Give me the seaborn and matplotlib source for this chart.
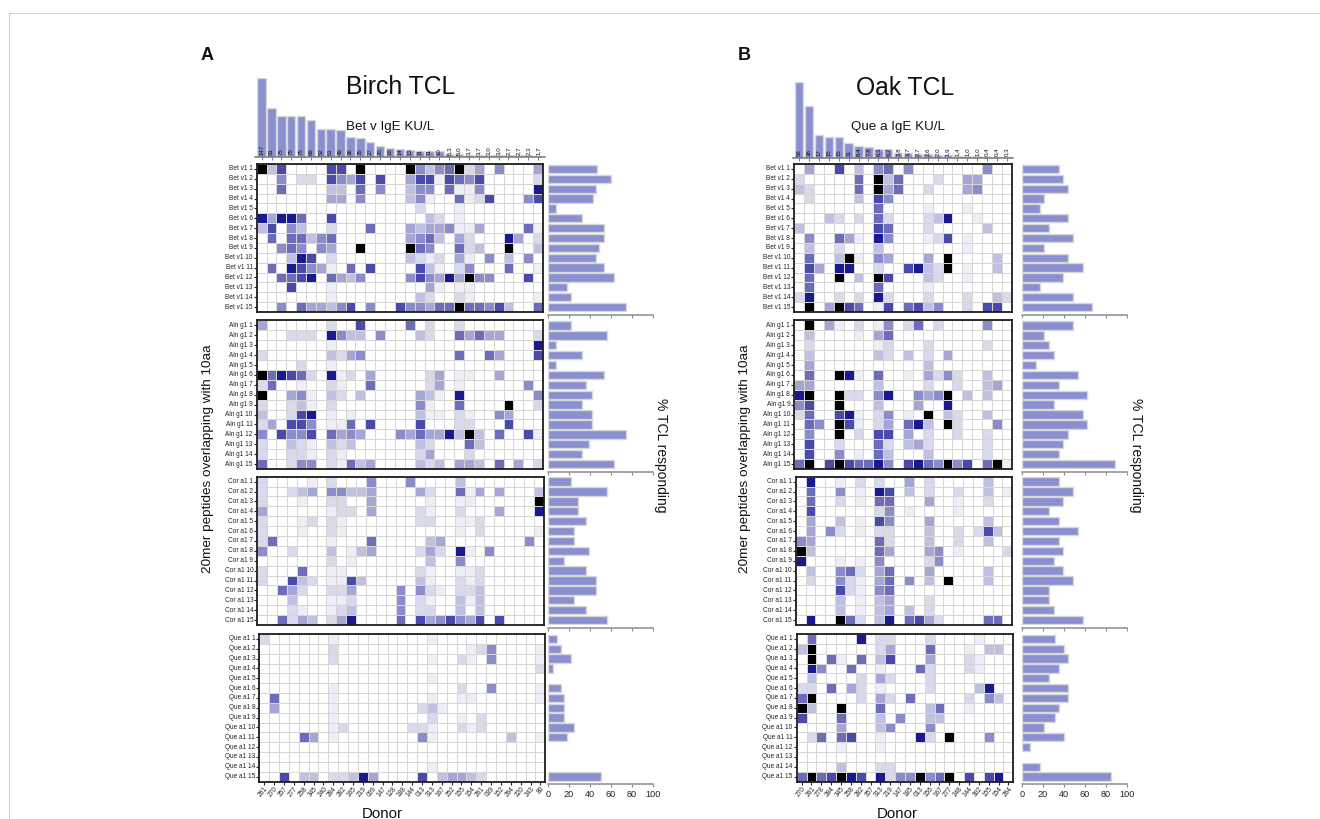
import numpy as np
import pandas as pd
import seaborn as sns
import matplotlib
matplotlib.use("Agg")
import matplotlib.pyplot as plt
from matplotlib.colors import ListedColormap
from matplotlib.lines import Line2D

W, H = 1320, 819

# response level per cell, 0 (white) to 9 (black), only non-zero cells listed by donor index
birch_bet = [
    {0:9,1:3,2:7,7:7,8:7,10:9,15:9,16:5,17:3,18:5,19:6,20:9,21:2,22:4,24:5,28:4},
    {2:5,4:2,5:2,7:7,8:5,9:4,10:7,12:7,15:4,16:7,17:7,18:1,19:7,20:6,21:5,22:7,28:2},
    {2:6,7:3,8:3,10:6,12:5,15:3,16:5,17:5,19:6,20:1,21:1,22:5,28:8},
    {7:4,8:4,10:5,15:3,16:5,17:1,20:6,21:1,22:2,23:7,27:5,28:7},
    {16:2,20:1},
    {0:8,1:4,2:8,3:8,4:6,7:7,17:3,18:2,20:1},
    {0:3,1:7,3:5,4:3,7:2,11:6,15:4,16:3,17:4,18:4,19:5,20:1,21:1,22:4,27:6,28:1},
    {1:6,3:6,4:6,5:3,6:5,7:6,15:4,16:5,17:6,18:3,20:4,21:2,25:8,26:4,28:2},
    {2:5,3:6,4:5,6:5,7:4,10:9,15:9,16:6,17:5,20:6,21:2,22:3,25:9,28:3},
    {3:3,4:8,5:7,7:2,15:3,16:2,17:1,18:2,20:4,21:1,23:5,25:3,27:5},
    {1:6,3:8,4:7,5:5,6:4,7:1,9:6,11:7,16:7,17:3,18:1,20:2,21:5,25:6,28:1},
    {2:6,3:6,4:7,5:8,7:6,8:4,9:3,10:5,15:5,16:7,17:5,18:4,19:8,20:4,21:9,22:5,23:5,27:7},
    {3:7,7:1,17:4,18:1,20:1,21:1},
    {7:1,16:3,17:2,20:2,21:1,28:1},
    {2:5,4:6,5:4,6:4,7:3,8:5,9:7,11:5,14:7,15:5,16:5,17:4,18:6,19:6,20:9,21:6,22:6,23:5,24:7,25:3,28:6},
]
birch_aln = [
    {0:4,7:2,10:7,15:6,17:2,20:2},
    {3:2,4:2,5:2,7:8,8:5,9:3,10:3,12:5,16:3,17:2,20:6,21:4,22:6,23:4,24:4,28:2},
    {7:1,28:8},
    {0:2,7:3,8:2,9:4,10:5,20:6,23:6,24:4,28:7},
    {4:2,7:1},
    {0:9,1:6,2:8,3:7,4:6,5:2,7:8,8:1,9:2,11:4,17:2,18:4,20:1,21:1,24:4},
    {0:2,1:6,4:1,7:2,8:1,11:6,17:2,18:4,20:1,27:5},
    {0:9,3:4,4:5,5:1,7:3,8:2,10:3,16:4,17:3,18:1,20:8,28:5},
    {0:2,3:2,4:3,5:1,7:2,16:5,17:1,20:6,25:9,28:2},
    {0:3,3:2,4:7,5:8,7:1,9:1,16:3,17:1,18:1,20:2,21:1,24:5,25:4},
    {0:2,1:4,3:7,4:7,5:5,7:1,8:1,9:6,11:7,16:7,20:2,21:2,25:7},
    {0:5,2:7,3:5,4:5,5:7,7:6,8:4,9:5,10:4,14:5,15:4,16:6,17:4,18:4,19:8,20:3,21:9,22:3,24:6,27:7,28:1},
    {0:2,3:3,4:2,5:1,7:3,8:2,9:3,16:3,17:2,21:6,22:3},
    {0:2,3:2,4:2,5:1,7:2,8:1,16:2,17:4,21:2},
    {0:6,3:2,4:5,5:5,7:2,8:1,9:6,10:3,11:4,16:3,17:2,18:3,20:4,21:4,22:3,24:6,26:4,28:2},
]
birch_cor = [
    {0:2,5:1,7:2,11:5,15:5,20:3},
    {0:2,3:2,4:3,5:4,7:5,8:5,9:3,10:3,11:4,16:4,17:2,20:6,21:1,22:4,24:4,28:3},
    {0:2,4:1,7:2,8:2,11:4,17:1,20:1,21:1,28:9},
    {0:4,7:1,8:2,9:2,11:4,16:2,17:1,20:2,24:4,28:8},
    {0:2,4:1,5:2,7:2,8:1,16:2,17:2,20:1,21:1,22:2},
    {0:2,4:1,7:2,8:1,20:1,22:2,28:1},
    {0:2,1:6,7:1,11:6,17:3,18:4,27:5},
    {0:5,3:2,7:3,9:1,10:3,11:4,16:2,17:4,18:2,20:8,21:1,23:5},
    {7:2,9:1,17:3,20:5},
    {0:2,4:6,7:1,8:1,16:2,17:1,20:1,21:1,22:2},
    {0:2,3:7,4:3,5:2,7:1,8:1,9:7,10:3,16:3,17:1,20:2,21:1,22:2},
    {2:6,3:4,4:2,7:2,8:2,9:4,14:5,16:5,17:2,18:1,20:2,21:2,22:3},
    {3:3,7:1,8:1,9:2,14:5,16:2,17:1,20:3,21:1,22:3},
    {3:2,4:1,7:1,8:2,9:3,14:5,16:2,17:2,20:3,22:3},
    {2:6,3:2,4:4,5:3,7:2,8:4,9:8,14:6,16:7,17:4,18:5,19:7,20:5,21:4,22:7,24:7},
]
birch_que = [
    {0:2,7:1,17:1},
    {7:2,21:1,22:2,23:5,28:1},
    {7:2,17:1,20:2,21:1,23:5,28:1},
    {28:2},
    {17:1},
    {7:1,20:2,23:5,28:1},
    {1:6,7:1,17:1,20:1,21:1,28:1},
    {1:4,7:1,16:2,17:3,18:1},
    {7:1,17:2,20:1,22:2},
    {7:1,8:2,15:2,16:2,17:1,20:2,21:1,22:2},
    {4:6,5:4,7:1,16:5,17:1,25:3,28:1},
    {},
    {},
    {17:1},
    {2:7,4:3,5:3,7:2,8:2,9:3,10:8,11:4,16:7,18:3,19:4,20:4,21:3,22:2},
]
oak_bet = [
    {1:4,4:7,6:3,8:5,9:6,11:5,19:5},
    {0:2,6:6,8:9,9:3,10:6,14:2,17:4,18:4},
    {0:3,1:2,6:6,8:9,9:4,10:6,13:2,17:4,18:5},
    {1:2,6:3,8:7,9:5},
    {8:6,13:1,17:1},
    {3:3,4:2,6:2,8:6,9:2,13:2,14:3,15:8,18:1},
    {0:3,8:7,9:6,13:2,19:3},
    {1:5,4:6,5:4,6:1,8:8,9:5,13:1,14:2,15:7,17:1},
    {1:3,4:2,8:3,17:1},
    {1:6,4:3,5:9,6:1,8:5,9:4,13:4,15:9,20:3},
    {1:7,2:4,4:8,5:8,8:2,11:7,12:8,13:3,14:2,15:9,17:1,20:3},
    {1:6,4:9,6:3,8:9,9:7,13:3,14:2,17:1},
    {1:6,8:6,13:1},
    {0:2,1:8,4:2,6:2,8:8,9:2,13:2,17:2,20:3,21:2},
    {1:9,3:4,4:9,5:7,6:6,8:1,9:7,11:6,12:7,13:3,14:5,17:2,19:7,20:7},
]
oak_aln = [
    {1:9,3:4,4:1,6:2,8:1,9:5,11:2,12:6,14:2,19:5},
    {1:3,6:1,8:4,9:6},
    {1:2,8:1,9:2,13:2,19:2},
    {1:3,8:3,9:2,11:3,13:2,15:4},
    {1:4,13:3},
    {1:6,4:9,5:8,6:1,8:6,11:1,13:4,14:2,15:5,16:2,19:3},
    {0:4,1:4,8:3,13:2,16:2,19:3,20:4},
    {0:8,1:9,4:9,5:2,6:2,8:5,9:8,12:5,13:4,14:5,15:9,17:3,19:3},
    {0:5,1:7,4:9,8:3,12:4,15:8},
    {0:2,1:6,4:7,5:8,6:1,8:2,9:5,11:1,13:9,15:3,16:2,19:3},
    {1:6,2:5,4:9,5:7,6:1,8:2,9:4,11:6,12:8,13:3,15:9,16:2,20:5},
    {1:5,4:9,6:2,8:7,9:7,11:4,13:2,16:2,19:2},
    {1:7,4:2,8:6,9:2,11:3,12:4,13:2,19:2},
    {1:7,4:5,6:1,8:6,9:3,13:3,19:2},
    {0:6,1:9,3:7,4:9,5:7,6:6,7:6,8:8,9:5,11:7,12:8,13:6,14:5,15:9,16:5,17:7,19:6,20:9,21:1},
]
oak_cor = [
    {1:8,4:1,6:2,8:2,11:4,13:2,19:3},
    {1:6,4:5,6:1,8:8,9:7,11:3,13:2,16:2,19:3,21:1},
    {1:6,4:2,6:1,8:6,9:6,13:4,16:1,19:2},
    {1:7,8:2,9:5,11:1,16:1},
    {1:4,4:3,6:1,8:7,9:5,13:4,19:3},
    {1:4,3:5,4:2,6:1,8:2,9:2,13:3,16:2,18:2,19:7,20:3},
    {0:5,1:4,8:6,9:2,13:3,16:2,19:3},
    {0:9,1:3,8:6,9:4,13:4,14:5,16:1,21:2},
    {0:8,4:1,6:1,8:5,13:2,14:5},
    {1:3,4:5,5:6,6:2,8:4,9:6,13:4,19:3},
    {1:2,4:5,5:2,6:1,8:4,9:6,11:5,13:3,15:9,19:3},
    {4:7,5:2,6:1,8:5,9:6},
    {4:3,6:1,8:3,9:4,13:2},
    {4:3,6:1,8:3,9:4,11:3,13:2},
    {1:8,4:9,5:6,6:2,8:3,9:8,11:6,12:7,13:4,14:2,19:6,20:6},
]
oak_que = [
    {1:6,6:8,8:2,9:2,13:2,18:1},
    {0:3,1:9,8:2,9:4,13:6,17:1,19:3,20:3},
    {1:9,3:6,4:1,6:6,8:3,9:7,13:4,17:2,18:1},
    {1:8,2:5,5:6,8:1,12:6,13:2,17:2,18:1},
    {1:3,6:2,8:4,9:2,13:2},
    {0:2,1:2,3:6,5:4,6:2,8:1,13:2,18:3,19:8},
    {0:6,1:9,6:2,8:4,9:2,11:6,17:2,19:5,20:3},
    {0:9,1:3,4:9,8:6,13:3,14:6,17:1},
    {0:7,4:6,8:3,10:5,13:3,14:3},
    {4:4,8:3,9:5,13:5},
    {1:2,2:6,4:6,5:7,8:1,12:8,13:2,15:9,19:5},
    {4:1,8:1},
    {},
    {4:3,8:2,9:2},
    {0:6,1:9,2:6,3:7,4:9,5:8,6:7,8:8,9:2,10:5,11:5,12:9,13:5,14:6,15:9,17:7,19:7,20:8},
]

# % TCL responding per peptide
birch_pct = [
    [47, 60, 46, 43, 8, 32, 53, 53, 49, 46, 53, 63, 18, 22, 74],
    [22, 56, 8, 32, 8, 53, 36, 42, 32, 42, 42, 74, 39, 32, 63],
    [22, 56, 29, 29, 36, 25, 25, 39, 15, 36, 46, 46, 25, 36, 56],
    [9, 12, 22, 5, 0, 12, 15, 15, 15, 25, 18, 0, 0, 0, 50],
]
oak_pct = [
    [35, 39, 44, 21, 17, 44, 26, 49, 21, 44, 58, 39, 17, 49, 67],
    [49, 21, 26, 30, 13, 53, 35, 62, 30, 58, 62, 44, 39, 35, 89],
    [35, 49, 39, 26, 35, 53, 35, 39, 30, 39, 49, 26, 26, 30, 58],
    [31, 40, 44, 35, 26, 44, 44, 35, 31, 21, 40, 8, 0, 17, 85],
]

# IgE bars on top
birch_ige = [147, 91, 75, 75, 75, 68, 52, 51, 49, 36, 35, 27, 20, 16, 14, 13, 11, 11, 10,
             5.3, 5.0, 3.7, 3.7, 3.0, 3.0, 2.7, 2.7, 2.3, 1.7]
birch_ige_labels = ["147", "91", "75", "75", "75", "68", "52", "51", "49", "36", "35", "27", "20", "16", "14",
                    "13", "11", "11", "10", "5,3", "5,0", "3,7", "3,7", "3,0", "3,0", "2,7", "2,7", "2,3", "1,7"]
oak_ige = [56, 38, 17, 15, 15, 11, 8.4, 7.8, 6.3, 6.2, 3.8, 3.7, 2.7, 2.6, 2.0, 1.9, 1.4, 1.0, 1.0, 0.4, 0.4, 0.3]
oak_ige_labels = ["56", "38", "17", "15", "15", "11", "8,4", "7,8", "6,3", "6,2", "3,8", "3,7", "2,7", "2,6",
                  "2,0", "1,9", "1,4", "1,0", "1,0", "0,4", "0,4", "0,3"]

birch_donors = ["261", "270", "357", "277", "258", "345", "240", "284", "282", "165", "219", "009", "147", "128",
                "188", "144", "013", "313", "167", "252", "155", "154", "261", "039", "152", "264", "220", "243", "80"]
oak_donors = ["270", "261", "278", "284", "345", "258", "282", "357", "313", "219", "147", "185", "013", "156",
              "167", "277", "248", "144", "302", "155", "154", "264"]

allergens = ["Bet v1", "Aln g1", "Cor a1", "Que a1"]
peptide_numbers = list(range(1, 16))

level_colors = ["#ffffff", "#eeeef7", "#d9d9ec", "#c0c0e1", "#a6a6d6", "#8b8dca",
                "#6c6cb9", "#4a4aab", "#191a8f", "#000000"]
BAR = "#8a8fd0"
EDGE = "#d8d8d8"
GRID = "#d6d6d6"

sns.set_theme(style="white")
plt.rcParams["font.family"] = ["Liberation Sans", "DejaVu Sans"]


def px_axes(fig, x0, y0, x1, y1):
    return fig.add_axes([x0 / W, 1 - y1 / H, (x1 - x0) / W, (y1 - y0) / H])


def to_matrix(rows, n):
    m = np.zeros((15, n))
    for i, row in enumerate(rows):
        for j, v in row.items():
            m[i, j] = v
    return m


def draw_heat(fig, box, rows, name, donors, bottom):
    n = len(donors)
    ax = px_axes(fig, *box)
    labels = [f"{name} {p}" for p in peptide_numbers]
    df = pd.DataFrame(to_matrix(rows, n), index=labels)
    sns.heatmap(df, ax=ax, cmap=ListedColormap(level_colors), vmin=-0.5, vmax=9.5, cbar=False,
                linewidths=0.6, linecolor=GRID, xticklabels=False, yticklabels=True)
    for sp in ax.spines.values():
        sp.set_visible(True)
        sp.set_color("#1c1c1c")
        sp.set_linewidth(1.3)
    ax.tick_params(axis="y", left=True, length=2.2, width=0.8, pad=0.8, labelsize=4.7,
                   labelcolor="#222222", color="#222222", rotation=0)
    if bottom:
        ax.set_xticks(np.arange(n) + 0.5)
        ax.set_xticklabels(donors, rotation=50, ha="right", rotation_mode="anchor", fontsize=4.7, color="#222222")
        ax.tick_params(axis="x", bottom=True, length=2.2, width=0.8, pad=0.8, color="#222222")


def draw_pct(fig, box, values, bottom):
    ax = px_axes(fig, *box)
    df = pd.DataFrame({"peptide": peptide_numbers, "pct": values})
    sns.barplot(data=df, y="peptide", x="pct", orient="h", order=peptide_numbers, color=BAR, saturation=1,
                width=0.84, edgecolor=EDGE, linewidth=1.0, ax=ax)
    for p in list(ax.patches):
        if p.get_width() == 0:
            p.remove()
    ax.set_xlim(0, 100)
    ax.set_ylim(14.5, -0.5)
    ax.set_xlabel("")
    ax.set_ylabel("")
    ax.set_yticks([])
    ax.set_xticks(range(0, 101, 20))
    for s in ["top", "right", "left"]:
        ax.spines[s].set_visible(False)
    ax.spines["bottom"].set_color("#8c8c8c")
    ax.spines["bottom"].set_linewidth(1.1)
    ax.spines["bottom"].set_position(("outward", 2))
    ax.tick_params(axis="x", bottom=True, length=2.5, width=0.8, color="#8c8c8c", pad=1.5,
                   labelbottom=bottom, labelsize=6.6, labelcolor="#222222")
    ax.patch.set_alpha(0)


def draw_ige(fig, box, values, labels, ymax):
    ax = px_axes(fig, *box)
    df = pd.DataFrame({"donor": range(len(values)), "ige": values})
    sns.barplot(data=df, x="donor", y="ige", color=BAR, saturation=1, width=0.86, edgecolor=EDGE, linewidth=1.0, ax=ax)
    ax.set_ylim(0, ymax)
    ax.set_xlim(-0.5, len(values) - 0.5)
    ax.set_xlabel("")
    ax.set_ylabel("")
    ax.set_yticks([])
    ax.set_xticks(range(len(values)))
    ax.set_xticklabels([])
    for s in ["top", "right", "left"]:
        ax.spines[s].set_visible(False)
    ax.spines["bottom"].set_color("#777777")
    ax.spines["bottom"].set_linewidth(1.1)
    ax.spines["bottom"].set_bounds(-0.67, len(values) - 0.33)
    ax.tick_params(axis="x", bottom=True, length=2, width=0.7, color="#777777")
    for i, lab in enumerate(labels):
        ax.annotate(lab, (i, 0), xytext=(0, 1.5), textcoords="offset points", rotation=90, ha="center", va="bottom",
                    fontsize=4.4, color="#111111")
    ax.patch.set_alpha(0)


fig = plt.figure(figsize=(W / 100, H / 100), dpi=100)

# page frame, open on the right
for xs, ys in [((9, 9), (819, 12.7)), ((9, 1320), (12.7, 12.7))]:
    fig.add_artist(Line2D([x / W for x in xs], [1 - y / H for y in ys], color="#d0d0d0", lw=0.8))

panels = [
    dict(rows=[birch_bet, birch_aln, birch_cor, birch_que], pct=birch_pct, donors=birch_donors,
         boxes=[(256.7, 164, 543, 312), (256.7, 320.5, 543, 469), (257.3, 476.7, 543.7, 625), (259.3, 634, 545.3, 781.5)],
         pct_x=(548, 653), ige=birch_ige, ige_labels=birch_ige_labels, ige_box=(256.7, 77.7, 543, 156.7), ige_max=147),
    dict(rows=[oak_bet, oak_aln, oak_cor, oak_que], pct=oak_pct, donors=oak_donors,
         boxes=[(794.3, 164, 1011.7, 312), (794.3, 320.5, 1011.7, 469), (795.7, 476.7, 1012.3, 625), (796.7, 634, 1013.3, 781.5)],
         pct_x=(1022, 1127), ige=oak_ige, ige_labels=oak_ige_labels, ige_box=(794.3, 81.7, 1011.7, 157.7), ige_max=56),
]

for pan in panels:
    for k, box in enumerate(pan["boxes"]):
        last = k == 3
        draw_heat(fig, box, pan["rows"][k], allergens[k], pan["donors"], last)
        draw_pct(fig, (pan["pct_x"][0], box[1], pan["pct_x"][1], box[3]), pan["pct"][k], last)
    draw_ige(fig, pan["ige_box"], pan["ige"], pan["ige_labels"], pan["ige_max"])


def label(x, y, s, **kw):
    fig.text(x / W, 1 - y / H, s, ha="center", va="center", color="#111111", **kw)


label(207, 56, "A", fontsize=13, fontweight="bold")
label(744, 56, "B", fontsize=13, fontweight="bold")
label(401, 87, "Birch TCL", fontsize=17.8)
label(905, 88, "Oak TCL", fontsize=17.8)
label(390, 127, "Bet v IgE KU/L", fontsize=9.6)
label(898, 127, "Que a IgE KU/L", fontsize=9.6)
label(208, 459, "20mer peptides overlapping with 10aa", fontsize=9.7, rotation=90)
label(745, 459, "20mer peptides overlapping with 10aa", fontsize=9.7, rotation=90)
label(661, 455, "% TCL responding", fontsize=10, rotation=270)
label(1136, 455, "% TCL responding", fontsize=10, rotation=270)
label(382, 814, "Donor", fontsize=10.8)
label(897, 814, "Donor", fontsize=10.8)

fig.savefig("out.png", dpi=100, facecolor="white")
